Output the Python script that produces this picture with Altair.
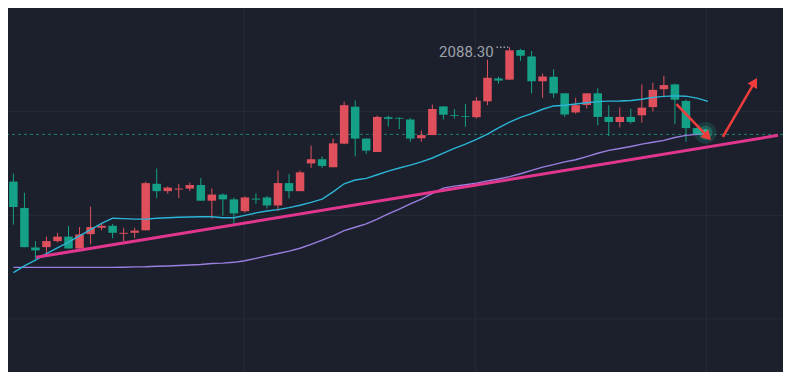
import altair as alt
import pandas as pd

# ---------------- data ----------------
idx = list(range(63))
open_ = [2074.23, 2071.47, 2067.33, 2067.37, 2068.0, 2068.47, 2067.23, 2068.73, 2069.4, 2069.6,
         2068.77, 2068.87, 2069.13, 2074.0, 2073.23, 2073.4, 2073.5, 2073.87, 2072.23, 2072.87,
         2072.37, 2071.13, 2072.45, 2072.57, 2071.73, 2074.07, 2073.23, 2076.13, 2076.57, 2075.73,
         2078.2, 2082.07, 2078.73, 2077.33, 2080.97, 2080.9, 2080.73, 2078.77, 2079.1, 2082.1,
         2081.2, 2081.1, 2080.97, 2082.63, 2085.03, 2084.9, 2088.0, 2087.33, 2084.73, 2085.2,
         2083.47, 2081.47, 2082.25, 2083.47, 2081.0, 2080.47, 2081.0, 2081.17, 2082.03, 2083.9,
         2084.4, 2082.67, 2079.83]
high = [2075.07, 2073.07, 2068.0, 2068.47, 2068.87, 2069.6, 2069.47, 2071.6, 2069.8, 2069.8,
        2069.4, 2069.4, 2074.23, 2075.6, 2073.73, 2074.0, 2074.13, 2074.6, 2073.5, 2073.0,
        2072.57, 2072.67, 2073.0, 2072.73, 2075.4, 2075.0, 2075.4, 2078.0, 2076.87, 2078.73,
        2082.6, 2082.73, 2078.73, 2081.13, 2081.13, 2080.97, 2080.9, 2079.57, 2082.3, 2082.1,
        2081.83, 2082.37, 2083.07, 2087.0, 2085.2, 2088.3, 2088.13, 2087.9, 2085.55, 2086.0,
        2083.47, 2083.0, 2083.47, 2084.0, 2082.23, 2082.0, 2081.87, 2084.4, 2084.57, 2085.3,
        2084.5, 2082.83, 2079.83]
low = [2069.73, 2067.35, 2066.13, 2066.47, 2067.87, 2067.23, 2067.23, 2067.67, 2069.13, 2068.3,
       2068.0, 2068.33, 2069.13, 2072.5, 2072.97, 2072.5, 2073.23, 2072.23, 2070.33, 2070.67,
       2069.8, 2071.0, 2071.9, 2071.4, 2071.13, 2072.47, 2073.23, 2075.67, 2075.63, 2075.73,
       2078.13, 2076.87, 2077.13, 2077.33, 2080.0, 2079.73, 2078.4, 2078.4, 2079.1, 2080.73,
       2080.83, 2079.97, 2080.83, 2082.23, 2084.47, 2084.9, 2086.87, 2083.47, 2083.0, 2083.0,
       2081.0, 2081.33, 2081.87, 2080.13, 2079.0, 2079.9, 2080.3, 2080.4, 2081.57, 2083.07,
       2080.23, 2078.4, 2079.2]
close = [2071.57, 2067.37, 2067.03, 2068.0, 2068.47, 2067.23, 2068.7, 2069.47, 2069.6, 2068.87,
         2068.87, 2069.1, 2074.07, 2073.23, 2073.6, 2073.5, 2073.87, 2072.23, 2072.87, 2072.37,
         2070.9, 2072.57, 2072.35, 2071.73, 2074.07, 2073.23, 2075.2, 2076.57, 2075.87, 2078.23,
         2082.23, 2078.73, 2077.47, 2081.0, 2080.8, 2080.82, 2078.73, 2079.1, 2081.83, 2081.23,
         2081.12, 2081.02, 2082.7, 2085.1, 2084.8, 2087.97, 2087.4, 2084.73, 2085.23, 2083.47,
         2081.25, 2082.23, 2083.47, 2081.0, 2080.47, 2081.0, 2080.47, 2081.97, 2083.83, 2084.33,
         2082.8, 2079.83, 2079.2]

ma_idx = list(range(64))
ma_fast = [2064.7, 2065.4, 2066.0, 2066.7, 2067.3, 2067.9, 2068.55, 2069.2, 2069.85, 2070.4,
           2070.35, 2070.3, 2070.3, 2070.4, 2070.45, 2070.5, 2070.52, 2070.55, 2070.55, 2070.45,
           2070.45, 2070.7, 2070.95, 2071.15, 2071.3, 2071.5, 2071.75, 2072.05, 2072.4, 2073.15,
           2074.0, 2074.4, 2074.57, 2074.95, 2075.33, 2075.65, 2075.95, 2076.3, 2076.7, 2077.2,
           2077.7, 2078.15, 2078.65, 2079.2, 2079.85, 2080.45, 2080.95, 2081.35, 2081.8, 2082.15,
           2082.22, 2082.35, 2082.48, 2082.6, 2082.65, 2082.67, 2082.72, 2082.85, 2083.05, 2083.15,
           2083.2, 2083.17, 2082.97, 2082.62]
ma_slow = [2065.25, 2065.25, 2065.25, 2065.25, 2065.25, 2065.25, 2065.25, 2065.25, 2065.25, 2065.25,
           2065.27, 2065.3, 2065.32, 2065.37, 2065.4, 2065.45, 2065.5, 2065.55, 2065.65, 2065.7,
           2065.78, 2065.95, 2066.2, 2066.45, 2066.7, 2066.95, 2067.25, 2067.65, 2068.1, 2068.55,
           2069.1, 2069.45, 2069.8, 2070.3, 2070.85, 2071.35, 2071.9, 2072.4, 2073.0, 2073.55,
           2073.75, 2073.9, 2074.07, 2074.3, 2074.5, 2074.75, 2075.05, 2075.4, 2075.75, 2076.0,
           2076.3, 2076.52, 2076.85, 2077.2, 2077.5, 2077.7, 2077.9, 2078.15, 2078.35, 2078.55,
           2078.85, 2079.07, 2079.17, 2079.25]

trend_idx = [2.07, 69.35]
trend_price = [2066.3, 2079.07]

arrow_id = ["a", "a", "b", "b"]
arrow_idx = [60.14, 62.97, 64.35, 67.23]
arrow_price = [2082.33, 2078.93, 2078.9, 2084.64]
head_idx = [62.97, 67.23]
head_price = [2078.93, 2084.64]
head_angle = [136.5, 29.8]

last_price = 2079.17
glow_idx = [62.77]
glow_price = [2079.33]

high_label = ["2088.30"]
label_idx = [43.56]
label_price = [2087.8]
leader_idx = [43.82]
leader_idx2 = [44.88]
leader_price = [2088.3]

grid_prices = [2081.55, 2070.7, 2059.85]
grid_idx = [20.93, 41.89, 62.86]

# ---------------- styling ----------------
BG = "#1b202c"
GRID = "#262b37"
UP = "#e0505c"
DOWN = "#15a187"
CYAN = "#2bb5d6"
PURPLE = "#9a7fe0"
MAGENTA = "#e2368e"
ARROW = "#f03c3c"
DASH = "#1d7f6c"
TEXT = "#9ea1aa"

XS = alt.Scale(domain=[-0.035, 69.35], nice=False, zero=False)
YS = alt.Scale(domain=[2054.3, 2092.4], nice=False, zero=False)


def X(f):
    return alt.X(f, type="quantitative", scale=XS, axis=None)


def Y(f):
    return alt.Y(f, type="quantitative", scale=YS, axis=None)


candles = pd.DataFrame({"idx": idx, "open": open_, "high": high, "low": low, "close": close})
ma = pd.DataFrame({"idx": ma_idx, "fast": ma_fast, "slow": ma_slow})
trend = pd.DataFrame({"idx": trend_idx, "price": trend_price})
arrows = pd.DataFrame({"id": arrow_id, "idx": arrow_idx, "price": arrow_price})
heads = pd.DataFrame({"idx": head_idx, "price": head_price, "angle": head_angle})
glow = pd.DataFrame({"idx": glow_idx, "price": glow_price})
label = pd.DataFrame({"idx": label_idx, "price": label_price, "text": high_label})
leader = pd.DataFrame({"idx": leader_idx, "idx2": leader_idx2, "price": leader_price})
hgrid = pd.DataFrame({"price": grid_prices})
vgrid = pd.DataFrame({"idx": grid_idx})
lastdf = pd.DataFrame({"price": [last_price]})

color = alt.condition("datum.close >= datum.open", alt.value(UP), alt.value(DOWN))

hg = alt.Chart(hgrid).mark_rule(color=GRID, strokeWidth=1).encode(y=Y("price"))
vg = alt.Chart(vgrid).mark_rule(color=GRID, strokeWidth=1).encode(x=X("idx"))
lastline = alt.Chart(lastdf).mark_rule(color=DASH, strokeWidth=1, strokeDash=[3, 3]).encode(y=Y("price"))

wicks = alt.Chart(candles).mark_rule(strokeWidth=1, clip=True).encode(
    x=X("idx"), y=Y("low"), y2="high", color=color)
bodies = alt.Chart(candles).mark_bar(size=8.5, clip=True).encode(
    x=X("idx"), y=Y("open"), y2="close", color=color)

slow = alt.Chart(ma).mark_line(color=PURPLE, strokeWidth=1.4, clip=True).encode(x=X("idx"), y=Y("slow"))
fast = alt.Chart(ma).mark_line(color=CYAN, strokeWidth=1.4, clip=True).encode(x=X("idx"), y=Y("fast"))
trendline = alt.Chart(trend).mark_line(color=MAGENTA, strokeWidth=3, clip=True).encode(x=X("idx"), y=Y("price"))

glow1 = alt.Chart(glow).mark_circle(color="#26c6a0", opacity=0.16, size=480).encode(x=X("idx"), y=Y("price"))
glow2 = alt.Chart(glow).mark_circle(color="#26c6a0", opacity=0.3, size=200).encode(x=X("idx"), y=Y("price"))
glow3 = alt.Chart(glow).mark_circle(color="#2fd0a8", opacity=0.8, size=50).encode(x=X("idx"), y=Y("price"))

shafts = alt.Chart(arrows).mark_line(color=ARROW, strokeWidth=2.5).encode(
    x=X("idx"), y=Y("price"), detail="id:N")
arrowheads = alt.Chart(heads).mark_point(shape="triangle-up", filled=True, color=ARROW, opacity=1, size=120).encode(
    x=X("idx"), y=Y("price"), angle=alt.Angle("angle:Q", scale=None))

txt = alt.Chart(label).mark_text(align="right", baseline="middle", fontSize=15, font="Roboto", color=TEXT).encode(
    x=X("idx"), y=Y("price"), text="text:N")
lead = alt.Chart(leader).mark_rule(color=TEXT, strokeWidth=1.5, strokeDash=[1.5, 2]).encode(
    x=X("idx"), x2="idx2", y=Y("price"))

chart = alt.layer(
    hg, vg, lastline, wicks, bodies, slow, fast, trendline,
    glow1, glow2, glow3, shafts, arrowheads, txt, lead
).properties(
    width=775, height=364, padding=0, background=BG,
    autosize=alt.AutoSizeParams(type="none")
).configure_view(stroke=None)

chart.save("out.html", embed_options={"renderer": "svg", "actions": False})
